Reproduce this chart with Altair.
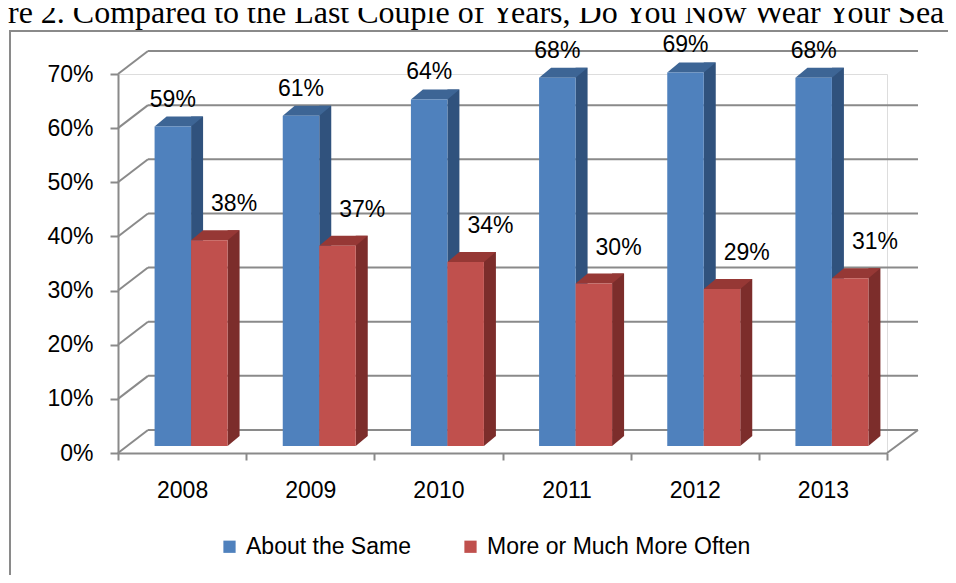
import altair as alt
import pandas as pd

# ---------------- data ----------------
years = ["2008", "2009", "2010", "2011", "2012", "2013"]
about_same = [59, 61, 64, 68, 69, 68]
more_often = [38, 37, 34, 30, 29, 31]
series_names = ["About the Same", "More or Much More Often"]
y_ticks = [0, 10, 20, 30, 40, 50, 60, 70]
TITLE = "re 2. Compared to the Last Couple of Years, Do You Now Wear Your Sea"

# ---------------- styles ----------------
front_colors = ["#4F81BD", "#C0504D"]
side_colors = ["#30527D", "#7C2D2B"]
top_colors = ["#3D6595", "#963835"]
GRID = "#8A8A8A"
FONT = "Liberation Sans"
FS = 23

W, H = 769, 379          # plot area (front plane)
DX, DY = 30, -23         # depth of the wall / floor
BX, BY = 9, -7           # shift of bar front faces into the depth
SX, SY = 12, -10         # bar depth
BW = 36.5                # bar width

rows = []
for i, yr in enumerate(years):
    rows.append({"year": yr, "series": series_names[0], "value": about_same[i], "label": f"{about_same[i]}%"})
    rows.append({"year": yr, "series": series_names[1], "value": more_often[i], "label": f"{more_often[i]}%"})
df = pd.DataFrame(rows)
ticks_df = pd.DataFrame({"t": y_ticks})
zero_df = pd.DataFrame({"t": [0]})
one_df = pd.DataFrame({"a": [0]})

y_scale = alt.Scale(domain=[0, 70], nice=False, zero=True)
x_scale = alt.Scale(domain=years, paddingInner=0, paddingOuter=0)

x_axis = alt.Axis(title=None, tickBand="extent", tickSize=7, tickWidth=2, tickColor=GRID,
                  domainColor=GRID, domainWidth=2, labelAngle=0, labelFont=FONT,
                  labelFontSize=FS, labelColor="#000000", labelPadding=19)
y_axis = alt.Axis(title=None, values=y_ticks, labelExpr="datum.value + '%'", tickSize=8,
                  tickWidth=2, tickColor=GRID, domainColor=GRID, domainWidth=2, grid=False,
                  labelFont=FONT, labelFontSize=FS, labelColor="#000000", labelPadding=17)

X = alt.X("year:N", scale=x_scale, axis=x_axis, sort=years)


def Yv(field):
    return alt.Y(field, scale=y_scale, axis=y_axis)


layers = []

# back wall gridlines
layers.append(
    alt.Chart(ticks_df).mark_rule(color=GRID, strokeWidth=2, yOffset=DY).encode(
        y=Yv("t:Q"), x=alt.value(DX), x2=alt.value(W + 31))
)
# diagonals from front axis to the back wall
layers.append(
    alt.Chart(ticks_df).mark_rule(color=GRID, strokeWidth=2, y2Offset=DY).encode(
        y=Yv("t:Q"), y2=alt.Y2("t:Q"), x=alt.value(0), x2=alt.value(DX))
)
# right edge of the floor
layers.append(
    alt.Chart(zero_df).mark_rule(color=GRID, strokeWidth=2, y2Offset=DY).encode(
        y=Yv("t:Q"), y2=alt.Y2("t:Q"), x=alt.value(W), x2=alt.value(W + 31))
)

for i, name in enumerate(series_names):
    sub = alt.Chart(df).transform_filter(alt.datum.series == name)
    fc = BX - BW / 2 if i == 0 else BX + BW / 2   # centre of front face relative to band centre
    h = BW / 2
    top_path = f"M{-h},0 L{h},0 L{h + SX},{SY} L{-h + SX},{SY} Z"
    tri_path = f"M{h},0 L{h},{SY} L{h + SX},{SY} Z"
    # side face
    layers.append(
        sub.mark_bar(width=SX, xOffset=fc + h + SX / 2, yOffset=BY + SY, y2Offset=BY + SY,
                     color=side_colors[i]).encode(x=X, y=Yv("value:Q"))
    )
    # bottom triangle of the side face
    layers.append(
        sub.mark_point(shape=tri_path, size=4, filled=True, opacity=1, strokeWidth=0,
                       color=side_colors[i], xOffset=fc, yOffset=BY).encode(
            x=X, y=alt.Y("t0:Q", scale=y_scale, axis=y_axis)).transform_calculate(t0="0")
    )
    # top face
    layers.append(
        sub.mark_point(shape=top_path, size=4, filled=True, opacity=1, strokeWidth=0,
                       color=top_colors[i], xOffset=fc, yOffset=BY).encode(x=X, y=Yv("value:Q"))
    )
    # front face
    layers.append(
        sub.mark_bar(width=BW, xOffset=fc, yOffset=BY, y2Offset=BY).encode(
            x=X, y=Yv("value:Q"),
            color=alt.Color("series:N",
                            scale=alt.Scale(domain=series_names, range=front_colors),
                            legend=alt.Legend(orient="none", legendX=100, legendY=461,
                                              direction="horizontal", title=None,
                                              symbolType="square", symbolSize=150,
                                              symbolStrokeWidth=0, labelFont=FONT,
                                              labelFontSize=FS, labelColor="#000000",
                                              labelLimit=0, labelOffset=5,
                                              columnPadding=48)))
    )
    # value labels
    lx = fc if i == 0 else BX + 43
    ly = BY - 27 if i == 0 else BY - 36
    layers.append(
        sub.mark_text(font=FONT, fontSize=FS, color="#000000", xOffset=lx, yOffset=ly,
                      baseline="middle").encode(x=X, y=Yv("value:Q"), text="label:N")
    )

# chart border and the title, which runs past the page edges as in the reference
layers.append(
    alt.Chart(one_df).mark_rule(color=GRID, strokeWidth=2).encode(
        x=alt.value(-108), y=alt.value(-43), y2=alt.value(H + 140))
)
layers.append(
    alt.Chart(one_df).mark_rule(color=GRID, strokeWidth=2).encode(
        x=alt.value(-109), x2=alt.value(W + 90), y=alt.value(-43))
)
layers.append(
    alt.Chart(one_df).mark_text(text=TITLE, font="Liberation Serif", fontSize=32,
                                align="left", baseline="alphabetic", color="#000000").encode(
        x=alt.value(-110), y=alt.value(-51))
)

chart = alt.layer(*layers).properties(
    width=W, height=H,
    padding={"left": 110, "top": 66, "right": 61, "bottom": 122},
    autosize=alt.AutoSizeParams(type="none"),
).configure_view(stroke=None).configure(background="#ffffff")

chart.save("out.html", embed_options={"renderer": "svg", "actions": False})
